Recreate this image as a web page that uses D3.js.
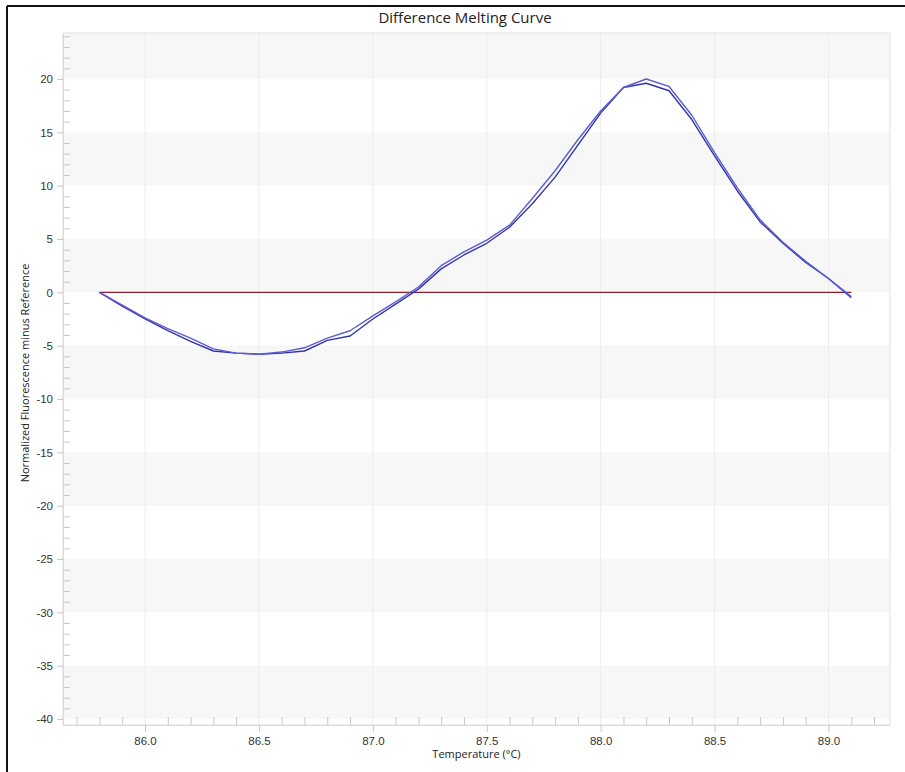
<!DOCTYPE html>
<html>
<head>
<meta charset="utf-8">
<script src="https://cdn.jsdelivr.net/npm/d3@7"></script>
<style>
  body { margin: 0; background: #fff; }
  svg { display: block; font-family: "Open Sans", "Noto Sans", sans-serif; }
  .tick text { fill: #333; font-size: 11.5px; }
  .axis path.domain { stroke: #d9d9d9; }
  .axis line { stroke: #c8c8c8; }
</style>
</head>
<body>
<div id="wrapper"></div>
<script>
// temperatures (°C), one reading every 0.1 degree
const temperatures = [
  85.8, 85.9, 86.0, 86.1, 86.2, 86.3, 86.4, 86.5, 86.6, 86.7, 86.8, 86.9,
  87.0, 87.1, 87.2, 87.3, 87.4, 87.5, 87.6, 87.7, 87.8, 87.9, 88.0, 88.1,
  88.2, 88.3, 88.4, 88.5, 88.6, 88.7, 88.8, 88.9, 89.0, 89.1,
]
const sampleA = [
  0, -1.2, -2.4, -3.4, -4.3, -5.3, -5.7, -5.8, -5.6, -5.2, -4.3, -3.6,
  -2.2, -0.9, 0.5, 2.5, 3.8, 4.9, 6.3, 8.8, 11.4, 14.3, 17.0, 19.2,
  20.0, 19.3, 16.6, 13.1, 9.8, 6.8, 4.7, 2.9, 1.3, -0.4,
]
const sampleB = [
  0, -1.3, -2.5, -3.6, -4.6, -5.5, -5.7, -5.8, -5.7, -5.5, -4.5, -4.1,
  -2.5, -1.1, 0.3, 2.2, 3.5, 4.6, 6.1, 8.3, 10.8, 13.8, 16.8, 19.2,
  19.6, 18.9, 16.2, 12.8, 9.5, 6.6, 4.6, 2.8, 1.3, -0.5,
]
// reference sample, flat at zero
const reference = temperatures.map(() => 0)

const xTickValues = [86.0, 86.5, 87.0, 87.5, 88.0, 88.5, 89.0]
const yTickValues = [-40, -35, -30, -25, -20, -15, -10, -5, 0, 5, 10, 15, 20]
const xDomain = [85.64, 89.27]
const yDomain = [-40.56, 24.31]

async function drawChart() {

  // 1. Access data

  const series = [
    { name: "reference", values: reference, color: "#8b1e2b" },
    { name: "B", values: sampleB, color: "#3434aa" },
    { name: "A", values: sampleA, color: "#5c5cd2" },
  ]
  const xAccessor = (d, i) => temperatures[i]

  // 2. Create chart dimensions

  let dimensions = {
    width: 905,
    height: 772,
    margin: {
      top: 33,
      right: 15,
      bottom: 47,
      left: 63,
    },
  }
  dimensions.boundedWidth = dimensions.width
    - dimensions.margin.left
    - dimensions.margin.right
  dimensions.boundedHeight = dimensions.height
    - dimensions.margin.top
    - dimensions.margin.bottom

  // 3. Draw canvas

  const wrapper = d3.select("#wrapper")
    .append("svg")
      .attr("width", dimensions.width)
      .attr("height", dimensions.height)

  // window frame (only left and top edge are visible)
  wrapper.append("line")
      .attr("x1", 7).attr("x2", 7)
      .attr("y1", 6).attr("y2", dimensions.height)
      .attr("stroke", "#111").attr("stroke-width", 2)
  wrapper.append("line")
      .attr("x1", 7).attr("x2", dimensions.width)
      .attr("y1", 6).attr("y2", 6)
      .attr("stroke", "#111").attr("stroke-width", 2)

  wrapper.append("text")
      .attr("x", 465)
      .attr("y", 23)
      .attr("text-anchor", "middle")
      .style("font-size", "15px")
      .style("fill", "#222")
      .text("Difference Melting Curve")

  const bounds = wrapper.append("g")
      .attr("transform", `translate(${dimensions.margin.left}, ${dimensions.margin.top})`)

  // 4. Create scales

  const xScale = d3.scaleLinear()
    .domain(xDomain)
    .range([0, dimensions.boundedWidth])

  const yScale = d3.scaleLinear()
    .domain(yDomain)
    .range([dimensions.boundedHeight, 0])

  // background bands: every other 5-unit strip is shaded
  const bandEdges = [...yTickValues, yDomain[1]]
  const bands = d3.pairs(bandEdges)
    .filter(([lo]) => lo % 10 === 0)
  bounds.append("g")
    .selectAll("rect")
    .data(bands)
    .join("rect")
      .attr("x", 0)
      .attr("width", dimensions.boundedWidth)
      .attr("y", d => yScale(d[1]))
      .attr("height", d => yScale(d[0]) - yScale(d[1]))
      .attr("fill", "#f7f7f7")

  bounds.append("g")
    .selectAll("line")
    .data(xTickValues)
    .join("line")
      .attr("x1", d => xScale(d))
      .attr("x2", d => xScale(d))
      .attr("y1", 0)
      .attr("y2", dimensions.boundedHeight)
      .attr("stroke", "#ececec")

  bounds.append("rect")
      .attr("width", dimensions.boundedWidth)
      .attr("height", dimensions.boundedHeight)
      .attr("fill", "none")
      .attr("stroke", "#e2e2e2")

  // 5. Draw data

  const lineGenerator = d3.line()
    .x((d, i) => xScale(xAccessor(d, i)))
    .y(d => yScale(d))

  bounds.append("g")
    .selectAll("path")
    .data(series)
    .join("path")
      .attr("d", d => lineGenerator(d.values))
      .attr("fill", "none")
      .attr("stroke", d => d.color)
      .attr("stroke-width", d => d.name == "reference" ? 1.3 : 1.4)
      .attr("stroke-linejoin", "round")

  // 6. Draw peripherals

  const xMinor = xScale.ticks(36).filter(t => !xTickValues.some(v => Math.abs(v - t) < 1e-6))
  const yMinor = d3.range(-40, 25, 1).filter(t => t % 5 !== 0 && t <= yDomain[1])

  const xAxis = bounds.append("g")
      .attr("class", "axis")
      .attr("transform", `translate(0, ${dimensions.boundedHeight})`)
      .call(d3.axisBottom(xScale)
        .tickValues(xTickValues)
        .tickFormat(d3.format(".1f"))
        .tickSizeInner(7)
        .tickSizeOuter(0)
        .tickPadding(5))
  xAxis.append("g")
      .call(d3.axisBottom(xScale)
        .tickValues(xMinor)
        .tickFormat("")
        .tickSizeInner(-8)
        .tickSizeOuter(0))
      .call(g => g.select(".domain").remove())
      .selectAll("line").attr("stroke", "#d0d0d0")

  const yAxis = bounds.append("g")
      .attr("class", "axis")
      .call(d3.axisLeft(yScale)
        .tickValues(yTickValues)
        .tickFormat(d => String(d))
        .tickSizeInner(6)
        .tickSizeOuter(0)
        .tickPadding(4))
  yAxis.append("g")
      .call(d3.axisLeft(yScale)
        .tickValues(yMinor)
        .tickFormat("")
        .tickSizeInner(-7)
        .tickSizeOuter(0))
      .call(g => g.select(".domain").remove())
      .selectAll("line").attr("stroke", "#d0d0d0")

  wrapper.append("text")
      .attr("x", dimensions.margin.left + dimensions.boundedWidth / 2)
      .attr("y", 758)
      .attr("text-anchor", "middle")
      .style("font-size", "11px")
      .style("fill", "#222")
      .text("Temperature (°C)")

  wrapper.append("text")
      .attr("transform", `translate(29, ${dimensions.margin.top + dimensions.boundedHeight / 2 - 6}) rotate(-90)`)
      .attr("text-anchor", "middle")
      .style("font-size", "11px")
      .style("fill", "#222")
      .text("Normalized Fluorescence minus Reference")
}
drawChart()
</script>
</body>
</html>
